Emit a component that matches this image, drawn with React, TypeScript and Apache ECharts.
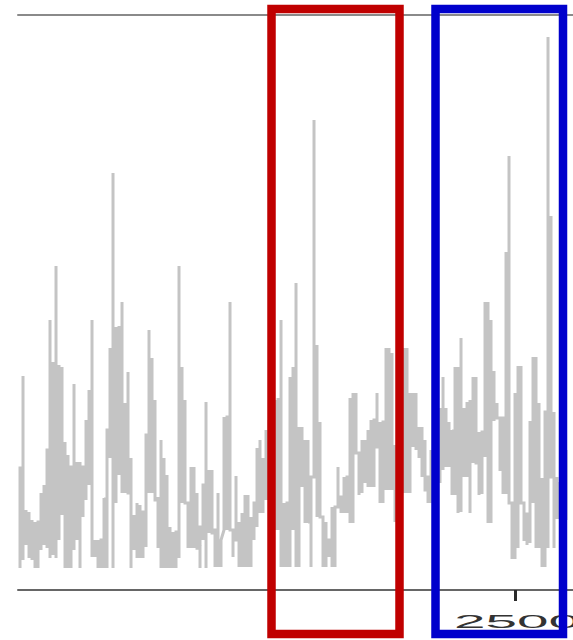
import React, { useEffect, useRef } from "react";
import * as echarts from "echarts";

// Upper and lower extent of the trace in each plotted column (one column per x step)
const colHigh = [
  24.4, 42.8, 16, 15.6, 14, 13.6, 13.6, 19.4, 21, 28,
  54, 45.6, 64.8, 45, 44.6, 29.6, 27, 24.6, 41.2, 25.6,
  25.6, 24.6, 34, 40, 54, 10, 10, 10, 18.4, 32,
  48.4, 83.4, 52.6, 52.8, 57.6, 37.4, 43.6, 26.4, 15, 17.4,
  17, 15.6, 31, 52, 46.4, 38, 18.6, 30, 26.4, 23,
  12.6, 11.6, 11.6, 64.8, 44.6, 38, 17.4, 24.6, 24.6, 19.4,
  12.6, 21, 37.6, 24, 24, 12, 19.4, 10, 34.6, 34.6,
  57.6, 12, 22.8, 13.6, 15.4, 19, 19, 14.6, 17.4, 28.4,
  30, 26.4, 32, 34, 36, 38, 38.4, 54, 17.4, 17.4,
  42.6, 44.6, 61.4, 32.6, 32.6, 30, 30, 22.6, 94, 49,
  33.6, 14.6, 13.6, 10, 16.6, 16.6, 24.6, 18.6, 22.6, 22.6,
  38.4, 39.4, 39.4, 27.4, 30, 30, 32, 34, 34, 39.4,
  33.6, 33.6, 48.4, 48.4, 47.4, 29, 29, 38, 48.4, 48.4,
  39.4, 39.4, 39.4, 32.6, 32.6, 30, 22.6, 28, 28, 34,
  36.4, 42.6, 36.4, 33.6, 32, 44.6, 44.6, 50.4, 36.4, 37.6,
  38, 42.6, 42.6, 31.6, 31.6, 57.6, 57.6, 54, 43.8, 37.4,
  34.4, 34.4, 67.6, 86.8, 17.4, 39.4, 44.8, 44.8, 17.4, 15.2,
  33.8, 46.6, 46.6, 37.4, 22.4, 35.6, 110.6, 74.8, 35.6, 22.6,
  21.6, 28, 28,
];

const colLow = [
  4.4, 6, 9, 6.4, 6, 4.4, 4.4, 8, 9, 8.4,
  6.4, 7, 6.4, 10, 15, 4.4, 4.4, 4.4, 8, 10,
  4.4, 14.6, 18, 21, 6.6, 6.6, 4.4, 4.4, 4.4, 4.4,
  26.4, 4.4, 17.4, 23, 19.4, 19.4, 19.4, 4.4, 8, 6.4,
  6.4, 6.4, 8.6, 19.4, 19.4, 18, 8.4, 4.4, 4.4, 4.4,
  4.4, 4.4, 4.4, 6.4, 17.4, 17.4, 8.4, 8.4, 8.4, 8.4,
  4.4, 10, 4.4, 11.4, 11.4, 4.6, 4.6, 4.6, 12, 12,
  12, 6.6, 10, 4.6, 4.6, 4.6, 4.6, 4.6, 10, 12.6,
  15.4, 15.4, 18, 18, 14, 12, 12, 4.6, 4.6, 4.6,
  4.6, 12, 4.6, 4.6, 20.6, 13.4, 13.4, 4.6, 22.6, 14.6,
  14.6, 4.6, 4.6, 6.6, 4.6, 4.6, 16.4, 15.4, 15.4, 15.4,
  13.4, 13.4, 27.4, 19, 19.4, 21.4, 20.6, 20.6, 20.6, 28.6,
  17.4, 17.4, 20, 20, 20, 13.6, 13.6, 18, 19.4, 19.4,
  19.4, 28.6, 28, 26.4, 22.6, 20, 17.4, 17.4, 18, 22,
  21.4, 24, 24.6, 24.6, 19, 19, 15.4, 15.6, 22.6, 22.6,
  15.4, 25.4, 25.4, 19, 19.2, 26.6, 13.4, 13.4, 33.8, 34.4,
  23.8, 19.2, 19.2, 17.4, 6.2, 6.2, 8.4, 17.4, 9.8, 9,
  9.4, 17.4, 8.4, 8.4, 4.6, 4.6, 8.4, 22.6, 8.4, 14.2,
  14.2, 14, 14,
];

const X_START = 2335; // x value of the first column
const X_MIN = 2334.33;
const X_MAX = 2534.33;
const Y_MIN = 0;
const Y_MAX = 115;
const xTickValues = [2500];
const xTickLabels = ["2500"];

function buildTrace(): [number, number][] {
  const pts: [number, number][] = [];
  const clamp = (v: number, a: number, b: number) => Math.min(b, Math.max(a, v));
  const n = colHigh.length;
  let prevExit = (colLow[0] + colHigh[0]) / 2;
  for (let i = 0; i < n; i++) {
    const lo = colLow[i];
    const hi = colHigh[i];
    const x = X_START + i;
    const entry = clamp(prevExit, lo, hi);
    const nextMid = i < n - 1 ? (colLow[i + 1] + colHigh[i + 1]) / 2 : (lo + hi) / 2;
    const exit = clamp(nextMid, lo, hi);
    const order = exit >= (lo + hi) / 2 ? [lo, hi] : [hi, lo];
    const seq = [entry, order[0], order[1], exit];
    for (const y of seq) {
      const last = pts[pts.length - 1];
      if (!last || last[0] !== x || last[1] !== y) pts.push([x, y]);
    }
    prevExit = exit;
  }
  return pts;
}

export default function App() {
  const ref = useRef<HTMLDivElement>(null);

  useEffect(() => {
    const el = ref.current;
    if (!el) return;
    const chart = echarts.init(el, undefined, { renderer: "svg" });

    chart.setOption({
      animation: false,
      backgroundColor: "#ffffff",
      grid: { left: 18, right: 22, top: 15, bottom: 50, containLabel: false },
      xAxis: [
        {
          type: "value",
          position: "bottom",
          min: X_MIN,
          max: X_MAX,
          axisLine: { show: true, onZero: false, lineStyle: { color: "#666666", width: 2 } },
          axisTick: {
            show: true,
            customValues: xTickValues,
            length: 11,
            lineStyle: { color: "#2a2a2a", width: 3 },
          },
          axisLabel: { show: false, customValues: xTickValues },
          splitLine: { show: false },
        },
        {
          type: "value",
          position: "top",
          min: X_MIN,
          max: X_MAX,
          axisLine: { show: true, onZero: false, lineStyle: { color: "#8a8a8a", width: 2 } },
          axisTick: { show: false },
          axisLabel: { show: false },
          splitLine: { show: false },
        },
      ],
      yAxis: {
        type: "value",
        min: Y_MIN,
        max: Y_MAX,
        show: false,
        splitLine: { show: false },
      },
      series: [
        {
          type: "line",
          xAxisIndex: 0,
          data: buildTrace(),
          showSymbol: false,
          symbol: "none",
          silent: true,
          clip: true,
          lineStyle: { color: "#c4c4c4", width: 3, cap: "butt", join: "miter", miterLimit: 4 },
          emphasis: { disabled: true },
        },
      ],
    });

    const tickPx = xTickValues.map((v) => chart.convertToPixel({ xAxisIndex: 0 }, v) as number);

    const box = (id: string, x1: number, x2: number, color: string) => ({
      id,
      type: "rect",
      z: 100,
      silent: true,
      shape: { x: x1, y: 9, width: x2 - x1, height: 625 },
      style: { fill: "none", stroke: color, lineWidth: 8.5 },
    });

    chart.setOption({
      graphic: {
        elements: [
          ...xTickLabels.map((t, k) => ({
            id: "tick-label-" + k,
            type: "text",
            x: tickPx[k] + 2,
            y: 622,
            scaleX: 3.15,
            z: 50,
            silent: true,
            style: {
              text: t,
              align: "center",
              verticalAlign: "middle",
              fill: "#333333",
              font: '18px "Liberation Sans", Arial, sans-serif',
            },
          })),
          box("red-box", 271.5, 399.5, "#c00000"),
          box("blue-box", 435.5, 563, "#0000cc"),
        ],
      },
    });

    return () => {
      chart.dispose();
    };
  }, []);

  return (
    <div
      style={{
        position: "fixed",
        left: 0,
        top: 0,
        width: 573,
        height: 640,
        overflow: "hidden",
        background: "#ffffff",
      }}
    >
      <div ref={ref} style={{ width: 640, height: 640 }} />
    </div>
  );
}
